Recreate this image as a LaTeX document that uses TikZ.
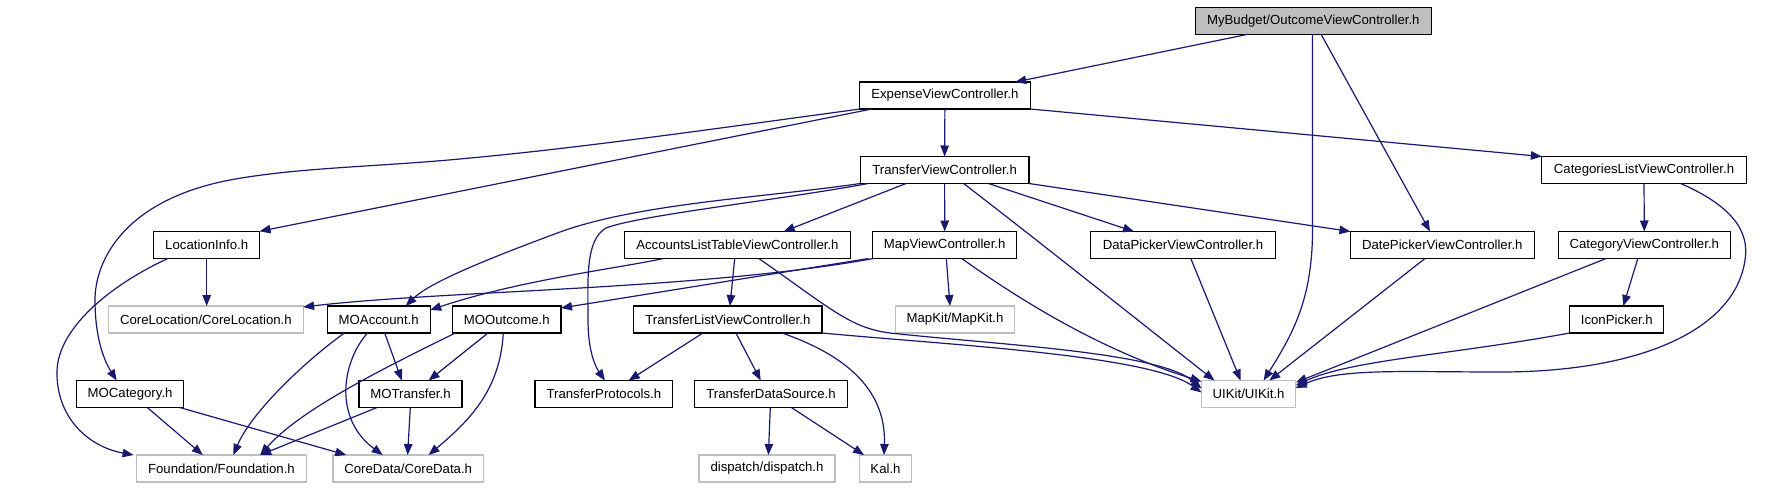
\documentclass[tikz,border=0pt]{standalone}
\usepackage{fontspec}
\setmainfont{Liberation Sans}
\usetikzlibrary{arrows.meta}
\definecolor{edgec}{RGB}{25,25,112}
\definecolor{rootfill}{RGB}{191,191,191}
\definecolor{gborder}{RGB}{191,191,191}
\begin{document}
\begin{tikzpicture}[x=1pt,y=-1pt,
 box/.style={draw=black,line width=1.15pt,rectangle,minimum height=27pt,inner sep=0pt,outer sep=0pt,font=\fontsize{13.2}{15}\selectfont,text=black},
 gbox/.style={box,draw=gborder},
 e/.style={draw=edgec,line width=1.2pt,-{Triangle[length=11pt,width=8.5pt]}}]
\path[use as bounding box] (0,0) rectangle (1787,490);

% nodes
\node[box,fill=rootfill,minimum width=235.8] (root) at (1313.3,20.7) {MyBudget/OutcomeViewController.h};
\node[box,minimum width=170.7] (exp) at (944.9,95.5) {ExpenseViewController.h};
\node[box,minimum width=168.8] (tvc) at (944.6,170) {TransferViewController.h};
\node[box,minimum width=204.3] (clvc) at (1644,170) {CategoriesListViewController.h};
\node[box,minimum width=105.7] (loc) at (206.7,244.8) {LocationInfo.h};
\node[box,minimum width=225.8] (altvc) at (737.4,245) {AccountsListTableViewController.h};
\node[box,minimum width=144.3] (mvc) at (944.7,245) {MapViewController.h};
\node[box,minimum width=184.6] (dpvc) at (1183,245) {DataPickerViewController.h};
\node[box,minimum width=183.7] (dtpvc) at (1442.3,245) {DatePickerViewController.h};
\node[box,minimum width=172.2] (cvc) at (1644.3,245) {CategoryViewController.h};
\node[gbox,minimum width=194.4] (coreloc) at (205.9,319.5) {CoreLocation/CoreLocation.h};
\node[box,minimum width=103] (moacc) at (378.7,319.5) {MOAccount.h};
\node[box,minimum width=108.6] (moout) at (506.7,319.5) {MOOutcome.h};
\node[box,minimum width=188.3] (tlvc) at (727.9,319.5) {TransferListViewController.h};
\node[gbox,minimum width=119] (mapkit) at (955,319.5) {MapKit/MapKit.h};
\node[box,minimum width=94.1] (icon) at (1616.8,319.5) {IconPicker.h};
\node[box,minimum width=107.2] (mocat) at (130.1,394) {MOCategory.h};
\node[box,minimum width=102.9] (motr) at (410.5,394) {MOTransfer.h};
\node[box,minimum width=137.7] (tprot) at (603.9,394) {TransferProtocols.h};
\node[box,minimum width=152.3] (tds) at (771,394) {TransferDataSource.h};
\node[gbox,minimum width=94.2] (uikit) at (1248.6,394) {UIKit/UIKit.h};
\node[gbox,minimum width=169.6] (found) at (221.4,468.5) {Foundation/Foundation.h};
\node[gbox,minimum width=150.4] (cdata) at (408.2,468.5) {CoreData/CoreData.h};
\node[gbox,minimum width=135.9] (disp) at (767,468.5) {dispatch/dispatch.h};
\node[gbox,minimum width=52] (kal) at (885.5,468.5) {Kal.h};

% edges from root
\draw[e] ([xshift=-65]root.south) -- ([xshift=70.3]exp.north);
\draw[e] ([xshift=-0.8]root.south) -- (1312.5,230) .. controls (1312.5,300) and (1292,335) .. ([xshift=15]uikit.north);
\draw[e] ([xshift=7.7]root.south) -- ([xshift=-12.3]dtpvc.north);

% edges from exp
\draw[e] (exp.south) -- (tvc.north);
\draw[e] ([xshift=-73]exp.south) -- (loc.north east);
\draw[e] ([xshift=0.5]exp.south west) .. controls (720,128) and (580,148) .. (470,158)
  .. controls (380,167) and (300,167) .. (230,180)
  .. controls (125,200) and (95,260) .. (95,300)
  .. controls (95,340) and (105,362) .. ([xshift=-13.4]mocat.north);
\draw[e] (exp.south east) -- (clvc.north west);

% edges from tvc
\draw[e] ([xshift=-38.6]tvc.south) -- ([xshift=46.3]altvc.north);
\draw[e] (tvc.south) -- (mvc.north);
\draw[e] ([xshift=43.8]tvc.south) -- ([xshift=-49]dpvc.north);
\draw[e] (tvc.south east) -- (dtpvc.north west);
\draw[e] ([xshift=19]tvc.south) .. controls (1050,250) and (1150,330) .. ([xshift=13]uikit.north west);
\draw[e] (tvc.south west) .. controls (770,197) and (640,203) .. (560,232)
  .. controls (490,258) and (430,282) .. ([xshift=27]moacc.north);
\draw[e] ([xshift=8]tvc.south west) .. controls (780,200) and (640,215) .. (606,228)
  .. controls (585,240) and (588,280) .. (588,320)
  .. controls (588,350) and (595,366) .. ([xshift=1]tprot.north);

% edges from altvc
\draw[e] ([xshift=-74]altvc.south) .. controls (620,268) and (520,280) .. ([yshift=-4]moacc.north east);
\draw[e] ([xshift=-2.7]altvc.south) -- ([xshift=2]tlvc.north);
\draw[e] ([xshift=21.4]altvc.south) .. controls (830,308) and (850,328) .. (890,333)
  .. controls (1000,345) and (1160,352) .. ([yshift=-8]uikit.north west);

% edges from mvc
\draw[e] ([xshift=1]mvc.south west) .. controls (700,290) and (450,290) .. ([yshift=-1]coreloc.north east);
\draw[e] ([xshift=-4]mvc.south west) -- ([yshift=-2]moout.north east);
\draw[e] ([xshift=1.6]mvc.south) -- ([xshift=-5]mapkit.north);
\draw[e] ([xshift=17]mvc.south) .. controls (1020,300) and (1100,350) .. ([yshift=-1]uikit.north west);

% edges from tlvc
\draw[e] ([xshift=-25]tlvc.south) -- ([xshift=24.8]tprot.north);
\draw[e] ([xshift=8]tlvc.south) -- ([xshift=-10.3]tds.north);
\draw[e] ([xshift=54]tlvc.south) .. controls (860,360) and (886,400) .. ([xshift=-1.5]kal.north);
\draw[e] (tlvc.south east) .. controls (950,345) and (1150,355) .. ([yshift=-12]uikit.north west);

% edges from tds
\draw[e] ([xshift=-0.7]tds.south) -- ([xshift=1.4]disp.north);
\draw[e] ([xshift=20.4]tds.south) -- ([xshift=-21.5]kal.north);

% edges from loc
\draw[e] (loc.south) -- (coreloc.north -| loc.south);
\draw[e] ([xshift=-38.4]loc.south) .. controls (110,285) and (55,330) .. (57,375)
  .. controls (58,420) and (90,447) .. ([xshift=-3]found.north west);

% edges from moacc
\draw[e] ([xshift=-34.3]moacc.south) .. controls (300,365) and (250,415) .. ([xshift=12]found.north);
\draw[e] ([xshift=-11.3]moacc.south) .. controls (340,365) and (335,420) .. ([xshift=-25.5]cdata.north);
\draw[e] ([xshift=6]moacc.south) -- ([xshift=-8.7]motr.north);

% edges from moout
\draw[e] ([xshift=3]moout.south west) .. controls (380,370) and (300,410) .. ([xshift=38.8]found.north);
\draw[e] ([xshift=-18.7]moout.south) -- ([xshift=18.1]motr.north);
\draw[e] ([xshift=-3.4]moout.south) .. controls (500,390) and (470,420) .. ([xshift=20.4]cdata.north);

% edges from mocat
\draw[e] ([xshift=17.2]mocat.south) -- ([xshift=-18.6]found.north);
\draw[e] ([xshift=-4]mocat.south east) -- ([xshift=13.3]cdata.north west);

% edges from motr
\draw[e] ([xshift=-33.5]motr.south) -- ([xshift=38.8]found.north);
\draw[e] ([xshift=-0.2]motr.south) -- ([xshift=-0.6]cdata.north);

% edges into uikit from the right side
\draw[e] ([xshift=7.8]dpvc.south) -- ([xshift=-8]uikit.north);
\draw[e] ([xshift=-17.3]dtpvc.south) -- ([xshift=20.7]uikit.north);
\draw[e] ([xshift=-38.3]cvc.south) -- ([yshift=-2]uikit.north east);
\draw[e] ([xshift=-6.5]cvc.south) -- ([xshift=6.5]icon.north);
\draw[e] (icon.south west) .. controls (1450,355) and (1350,360) .. ([yshift=-5]uikit.north east);
\draw[e] (clvc.south) -- (cvc.north);
\draw[e] ([xshift=36.7]clvc.south) .. controls (1730,205) and (1750,230) .. (1745,260)
  .. controls (1735,330) and (1640,372) .. (1500,372)
  .. controls (1400,372) and (1340,368) .. ([yshift=-7.5]uikit.north east);
\end{tikzpicture}
\end{document}
